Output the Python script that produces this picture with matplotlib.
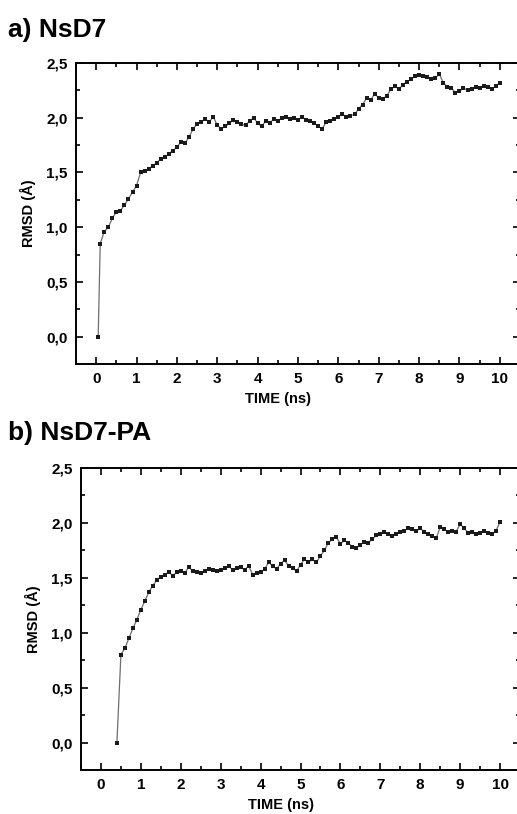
import numpy as np
import matplotlib
matplotlib.use("Agg")
import matplotlib.pyplot as plt
from matplotlib.ticker import MultipleLocator, FuncFormatter

plt.rcParams['font.family'] = ['Liberation Sans', 'DejaVu Sans']

# ---------- a) NsD7 : first frame at 0.05 ns, then every 0.1 ns ----------
time_a = np.concatenate([[0.05], np.round(np.arange(1, 101) * 0.1, 1)])
rmsd_a = [0.00,
          0.85, 0.96, 1.00, 1.08, 1.14, 1.15, 1.20, 1.26, 1.32, 1.38,
          1.50, 1.51, 1.53, 1.56, 1.59, 1.62, 1.64, 1.67, 1.70, 1.73,
          1.78, 1.77, 1.82, 1.90, 1.94, 1.96, 1.99, 1.96, 2.01, 1.93,
          1.90, 1.92, 1.95, 1.98, 1.96, 1.94, 1.93, 1.97, 2.00, 1.95,
          1.92, 1.97, 1.95, 1.99, 1.97, 2.00, 2.01, 1.99, 2.00, 1.98,
          2.01, 1.98, 1.97, 1.95, 1.92, 1.90, 1.96, 1.97, 1.99, 2.01,
          2.03, 2.01, 2.02, 2.03, 2.08, 2.12, 2.18, 2.16, 2.22, 2.18,
          2.17, 2.20, 2.26, 2.29, 2.26, 2.30, 2.33, 2.35, 2.38, 2.39,
          2.38, 2.37, 2.35, 2.36, 2.40, 2.32, 2.28, 2.27, 2.23, 2.24,
          2.27, 2.25, 2.26, 2.28, 2.27, 2.29, 2.28, 2.26, 2.29, 2.32]

# ---------- b) NsD7-PA : first frame at 0.4 ns, then 0.5 .. 10 ns ----------
time_b = np.concatenate([[0.4], np.round(np.arange(5, 101) * 0.1, 1)])
rmsd_b = [0.00,
          0.80, 0.86, 0.95, 1.04, 1.12, 1.21,
          1.29, 1.37, 1.43, 1.48, 1.51, 1.53, 1.55, 1.52, 1.55, 1.56,
          1.54, 1.60, 1.56, 1.55, 1.54, 1.56, 1.58, 1.57, 1.56, 1.57,
          1.59, 1.61, 1.57, 1.59, 1.60, 1.57, 1.61, 1.53, 1.54, 1.55,
          1.58, 1.64, 1.61, 1.58, 1.63, 1.66, 1.61, 1.59, 1.56, 1.62,
          1.67, 1.64, 1.67, 1.64, 1.70, 1.75, 1.82, 1.85, 1.87, 1.81,
          1.84, 1.82, 1.78, 1.77, 1.80, 1.83, 1.82, 1.85, 1.89, 1.90,
          1.92, 1.90, 1.88, 1.90, 1.92, 1.93, 1.95, 1.94, 1.93, 1.95,
          1.92, 1.90, 1.88, 1.86, 1.96, 1.94, 1.92, 1.93, 1.92, 1.99,
          1.95, 1.91, 1.92, 1.90, 1.91, 1.93, 1.91, 1.90, 1.93, 2.01]

W, H = 517, 814
fig = plt.figure(figsize=(W / 100, H / 100), dpi=100)


def px_axes(left, top, right, bottom):
    # pixel box -> figure fraction
    return fig.add_axes([left / W, 1 - bottom / H, (right - left) / W, (bottom - top) / H])


comma = FuncFormatter(lambda v, pos: f"{v:.1f}".replace('.', ','))


def style(ax, t, r):
    ax.plot(t, r, '-', color='#6e6e6e', lw=0.9, zorder=1)
    ax.plot(t, r, 's', color='#1a1a1a', ms=2.4, mew=0, zorder=2)
    ax.set_xlim(-0.5, 10.5)
    ax.set_ylim(-0.25, 2.5)
    ax.xaxis.set_major_locator(MultipleLocator(1))
    ax.xaxis.set_minor_locator(MultipleLocator(0.5))
    ax.yaxis.set_major_locator(MultipleLocator(0.5))
    ax.yaxis.set_minor_locator(MultipleLocator(0.25))
    ax.yaxis.set_major_formatter(comma)
    ax.tick_params(which='both', direction='in', top=True, right=True, width=1.2)
    ax.tick_params(which='major', length=5, labelsize=11, pad=6)
    ax.tick_params(which='minor', length=3)
    for lab in ax.get_xticklabels() + ax.get_yticklabels():
        lab.set_fontweight('bold')
    for sp in ax.spines.values():
        sp.set_linewidth(1.4)
    ax.set_xlabel('TIME (ns)', fontsize=10.5, fontweight='bold')
    ax.set_ylabel('RMSD (Å)', fontsize=10.5, fontweight='bold')
    ax.xaxis.set_label_coords(0.455, -0.093)
    ax.yaxis.set_label_coords(-0.09, 0.5)


ax1 = px_axes(76, 63, 520, 364)
style(ax1, time_a, rmsd_a)
ax2 = px_axes(81, 468, 520, 770)
style(ax2, time_b, rmsd_b)

fig.text(8 / W, 1 - 30 / H, 'a) NsD7', fontsize=19, fontweight='bold', va='center', ha='left')
fig.text(8 / W, 1 - 433 / H, 'b) NsD7-PA', fontsize=19, fontweight='bold', va='center', ha='left')

fig.savefig('out.png', dpi=100)
